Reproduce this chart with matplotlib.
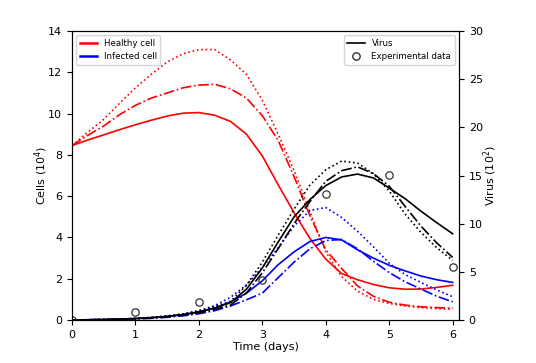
import matplotlib
matplotlib.use("Agg")
import matplotlib.pyplot as plt
from matplotlib.lines import Line2D

t = [0, 0.25, 0.5, 0.75, 1.0, 1.25, 1.5, 1.75, 2.0, 2.25, 2.5, 2.75, 3.0,
     3.25, 3.5, 3.75, 4.0, 4.25, 4.5, 4.75, 5.0, 5.25, 5.5, 5.75, 6.0]

# healthy cells (10^4)
healthy_1 = [8.45, 8.72, 8.97, 9.22, 9.46, 9.68, 9.88, 10.02, 10.05, 9.92, 9.62, 9.0, 7.95,
             6.55, 5.2, 3.95, 2.95, 2.25, 1.95, 1.72, 1.56, 1.49, 1.5, 1.58, 1.68]
healthy_2 = [8.45, 8.95, 9.4, 9.95, 10.4, 10.75, 11.0, 11.25, 11.38, 11.42, 11.2, 10.75, 9.9,
             8.7, 6.95, 5.05, 3.4, 2.5, 1.65, 1.15, 0.86, 0.72, 0.64, 0.6, 0.57]
healthy_3 = [8.45, 9.1, 9.72, 10.5, 11.25, 11.9, 12.5, 12.9, 13.1, 13.1, 12.6, 11.9, 10.65,
             9.0, 7.25, 5.25, 3.3, 2.1, 1.4, 1.0, 0.8, 0.68, 0.6, 0.55, 0.52]

# infected cells (10^4)
infected_1 = [0, 0.01, 0.02, 0.04, 0.07, 0.11, 0.17, 0.26, 0.38, 0.58, 0.88, 1.3, 1.9,
              2.68, 3.3, 3.8, 4.0, 3.88, 3.4, 3.0, 2.65, 2.38, 2.13, 1.95, 1.82]
infected_2 = [0, 0.01, 0.02, 0.03, 0.05, 0.08, 0.13, 0.2, 0.3, 0.45, 0.68, 0.98, 1.3,
              2.05, 2.8, 3.45, 3.85, 3.9, 3.45, 2.85, 2.3, 1.85, 1.5, 1.15, 0.88]
infected_3 = [0, 0.01, 0.02, 0.04, 0.07, 0.12, 0.19, 0.3, 0.45, 0.7, 1.1, 1.7, 2.55,
              3.5, 4.55, 5.3, 5.45, 4.97, 4.3, 3.55, 2.75, 2.2, 1.82, 1.45, 1.13]

# virus (10^2)
virus_1 = [0, 0.02, 0.05, 0.09, 0.15, 0.24, 0.37, 0.56, 0.85, 1.25, 1.8, 3.2, 5.4,
           8.1, 10.7, 12.5, 13.95, 14.85, 15.15, 14.75, 13.7, 12.6, 11.3, 10.1, 8.95]
virus_2 = [0, 0.02, 0.04, 0.08, 0.13, 0.21, 0.33, 0.5, 0.75, 1.1, 1.55, 2.8, 4.9,
           7.4, 10.0, 12.3, 14.4, 15.5, 15.9, 15.2, 13.9, 11.8, 9.75, 8.0, 6.5]
virus_3 = [0, 0.02, 0.05, 0.1, 0.17, 0.27, 0.42, 0.63, 0.95, 1.4, 1.95, 3.6, 6.0,
           8.8, 11.5, 14.0, 15.6, 16.5, 16.3, 15.2, 13.4, 11.0, 9.1, 7.5, 6.2]

t_exp = [0, 1, 2, 3, 4, 5, 6]
virus_exp = [0.05, 0.8, 1.84, 4.2, 13.1, 15.1, 5.5]

fig = plt.figure(figsize=(5.36, 3.63), dpi=100)
ax1 = fig.add_axes([0.1343, 0.1185, 0.722, 0.796])
ax2 = ax1.twinx()

lw = 1.2
ax1.plot(t, healthy_1, color="red", lw=lw)
ax1.plot(t, healthy_2, color="red", lw=lw, ls="-.")
ax1.plot(t, healthy_3, color="red", lw=lw, ls=":")
ax1.plot(t, infected_1, color="blue", lw=lw)
ax1.plot(t, infected_2, color="blue", lw=lw, ls="-.")
ax1.plot(t, infected_3, color="blue", lw=lw, ls=":")

ax2.plot(t, virus_1, color="black", lw=lw)
ax2.plot(t, virus_2, color="black", lw=lw, ls="-.")
ax2.plot(t, virus_3, color="black", lw=lw, ls=":")
ax2.plot(t_exp, virus_exp, "o", mfc="none", mec="#333333", ms=5.3, mew=0.9)

ax1.set_xlim(0, 6.1)
ax1.set_ylim(0, 14)
ax2.set_ylim(0, 30)
ax1.set_yticks(range(0, 15, 2))
ax2.set_yticks(range(0, 31, 5))
ax1.set_xticks(range(0, 7))

fs = 8
ax1.tick_params(labelsize=fs)
ax2.tick_params(labelsize=fs)
ax1.set_xlabel("Time (days)", fontsize=fs, labelpad=2)
ax1.set_ylabel("Cells (10$^4$)", fontsize=fs, labelpad=-1)
ax2.set_ylabel("Virus (10$^2$)", fontsize=fs, labelpad=-1)

h1 = [Line2D([], [], color="red", lw=1.8), Line2D([], [], color="blue", lw=1.8)]
ax1.legend(h1, ["Healthy cell", "Infected cell"], loc="upper left", fontsize=6.2)
h2 = [Line2D([], [], color="black", lw=1.2),
      Line2D([], [], ls="none", marker="o", mfc="none", mec="#333333", ms=5.3)]
ax2.legend(h2, ["Virus", "Experimental data"], loc="upper right", fontsize=6.2)

fig.savefig("out.png", dpi=100)
